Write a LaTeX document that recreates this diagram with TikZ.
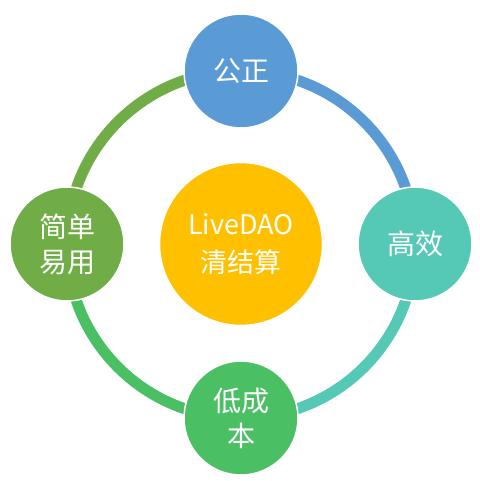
\documentclass[tikz,border=0pt]{standalone}
\usepackage{fontspec}
\setmainfont{Noto Sans CJK SC}
\usetikzlibrary{backgrounds}
\definecolor{topblue}{HTML}{5B9BD5}
\definecolor{rightteal}{HTML}{55C9B5}
\definecolor{bottomgreen}{HTML}{4ABF63}
\definecolor{leftolive}{HTML}{70AD47}
\definecolor{centergold}{HTML}{FFC000}

\begin{document}
\begin{tikzpicture}[
    x=1pt, y=1pt,
    every node/.style={align=center},
    item/.style={circle, draw=white, line width=1.5pt, text=white,
                 minimum size=114pt, inner sep=0pt,
                 font=\fontsize{28}{35}\selectfont},
    hub/.style={item, minimum size=163pt,
                font=\fontsize{27}{38}\selectfont},
    ring/.style={line width=11pt, bend left=45}
  ]
  \useasboundingbox (0,0) rectangle (479,481);

  % Hub and the four values round it.
  \node[hub, fill=centergold]   (hub)    at (241,237) {LiveDAO\\清结算};
  \node[item, fill=topblue]     (fair)   at (241,410) {公正};
  \node[item, fill=rightteal]   (fast)   at (415,237) {高效};
  \node[item, fill=bottomgreen] (cheap)  at (241,63)  {低成\\本};
  \node[item, fill=leftolive]   (easy)   at (67,237)  {简单\\易用};

  % Ring segments behind the circles.
  \begin{scope}[on background layer]
    \draw[ring, topblue]     (fair.center)  to (fast.center);
    \draw[ring, rightteal]   (fast.center)  to (cheap.center);
    \draw[ring, bottomgreen] (cheap.center) to (easy.center);
    \draw[ring, leftolive]   (easy.center)  to (fair.center);
  \end{scope}

\end{tikzpicture}
\end{document}
